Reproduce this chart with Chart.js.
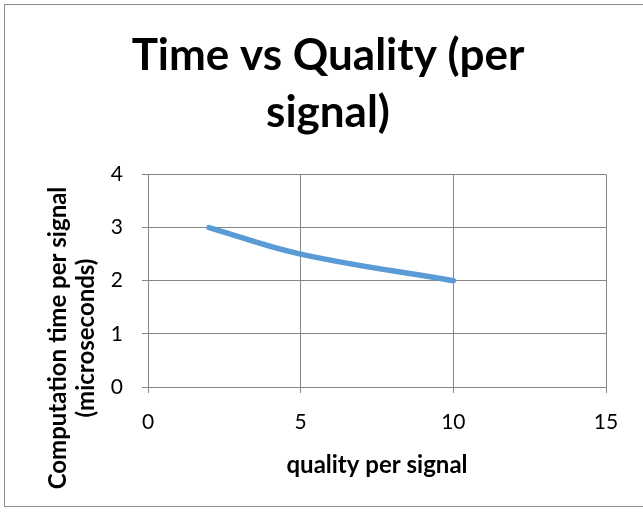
<!DOCTYPE html>
<html>
<head>
<meta charset="utf-8">
<title>Time vs Quality (per signal)</title>
<script src="https://cdn.jsdelivr.net/npm/chart.js@4.4.1/dist/chart.umd.min.js"></script>
<style>
  html, body { margin: 0; padding: 0; background: #fff; }
  canvas { display: block; }
</style>
</head>
<body>
<canvas id="grafico" width="643" height="512"></canvas>
<script>
// data
const quality = [2, 5, 10];
const timeUs = [3, 2.5, 2];
const xTicks = [0, 5, 10, 15];
const yTicks = [0, 1, 2, 3, 4];
const titleLines = ['Time vs Quality (per', 'signal)'];
const xTitle = 'quality per signal';
const yTitleLines = ['Computation time per signal', '(microseconds)'];

const FONT = 'Lato, "Open Sans", sans-serif';
const GRID = '#868686';

// white background + the thin frame round the chart
const frame = {
  id: 'frame',
  beforeDraw(chart) {
    const { ctx, width, height } = chart;
    ctx.save();
    ctx.fillStyle = '#fff';
    ctx.fillRect(0, 0, width, height);
    ctx.strokeStyle = '#8c8c8c';
    ctx.lineWidth = 1;
    ctx.strokeRect(4.5, 4.5, width + 10, height - 10);
    ctx.restore();
  }
};

// y title sits lower than the plot middle, so draw it by hand
const yTitle = {
  id: 'yTitle',
  afterDraw(chart) {
    const { ctx } = chart;
    ctx.save();
    ctx.translate(72, 338);
    ctx.rotate(-Math.PI / 2);
    ctx.fillStyle = '#000';
    ctx.font = 'bold 24px ' + FONT;
    ctx.textAlign = 'center';
    ctx.textBaseline = 'middle';
    ctx.fillText(yTitleLines[0], 0, -14);
    ctx.fillText(yTitleLines[1], 0, 14);
    ctx.restore();
  }
};

new Chart(document.getElementById('grafico'), {
  type: 'line',
  data: {
    datasets: [{
      data: quality.map((q, i) => ({ x: q, y: timeUs[i] })),
      borderColor: '#5B9BD5',
      borderWidth: 5.5,
      borderCapStyle: 'round',
      pointRadius: 0,
      tension: 0.4,
      fill: false
    }]
  },
  options: {
    responsive: false,
    animation: false,
    layout: { padding: { top: 0, right: 37, bottom: 0, left: 50 } },
    plugins: {
      legend: { display: false },
      tooltip: { enabled: false },
      title: {
        display: true,
        text: titleLines,
        color: '#000',
        font: { family: FONT, size: 44, weight: 'bold', lineHeight: 1.3 },
        padding: { top: 27, bottom: 33 }
      }
    },
    scales: {
      x: {
        type: 'linear',
        min: xTicks[0],
        max: xTicks[xTicks.length - 1],
        afterBuildTicks: s => { s.ticks = xTicks.map(v => ({ value: v })); },
        afterFit: s => { s.height = 125; },
        grid: { color: GRID, tickLength: 6 },
        border: { color: GRID },
        ticks: { color: '#000', padding: 17, maxRotation: 0, font: { family: FONT, size: 21 } },
        title: {
          display: true,
          text: xTitle,
          color: '#000',
          font: { family: FONT, size: 24, weight: 'bold', lineHeight: 1.2 },
          padding: { top: 0, bottom: 32 }
        }
      },
      y: {
        min: yTicks[0],
        max: yTicks[yTicks.length - 1],
        afterBuildTicks: s => { s.ticks = yTicks.map(v => ({ value: v })); },
        afterFit: s => { s.width = 98; },
        grid: { color: GRID, tickLength: 6 },
        border: { color: GRID },
        ticks: { color: '#000', padding: 19, font: { family: FONT, size: 21 } }
      }
    }
  },
  plugins: [frame, yTitle]
});
</script>
</body>
</html>
